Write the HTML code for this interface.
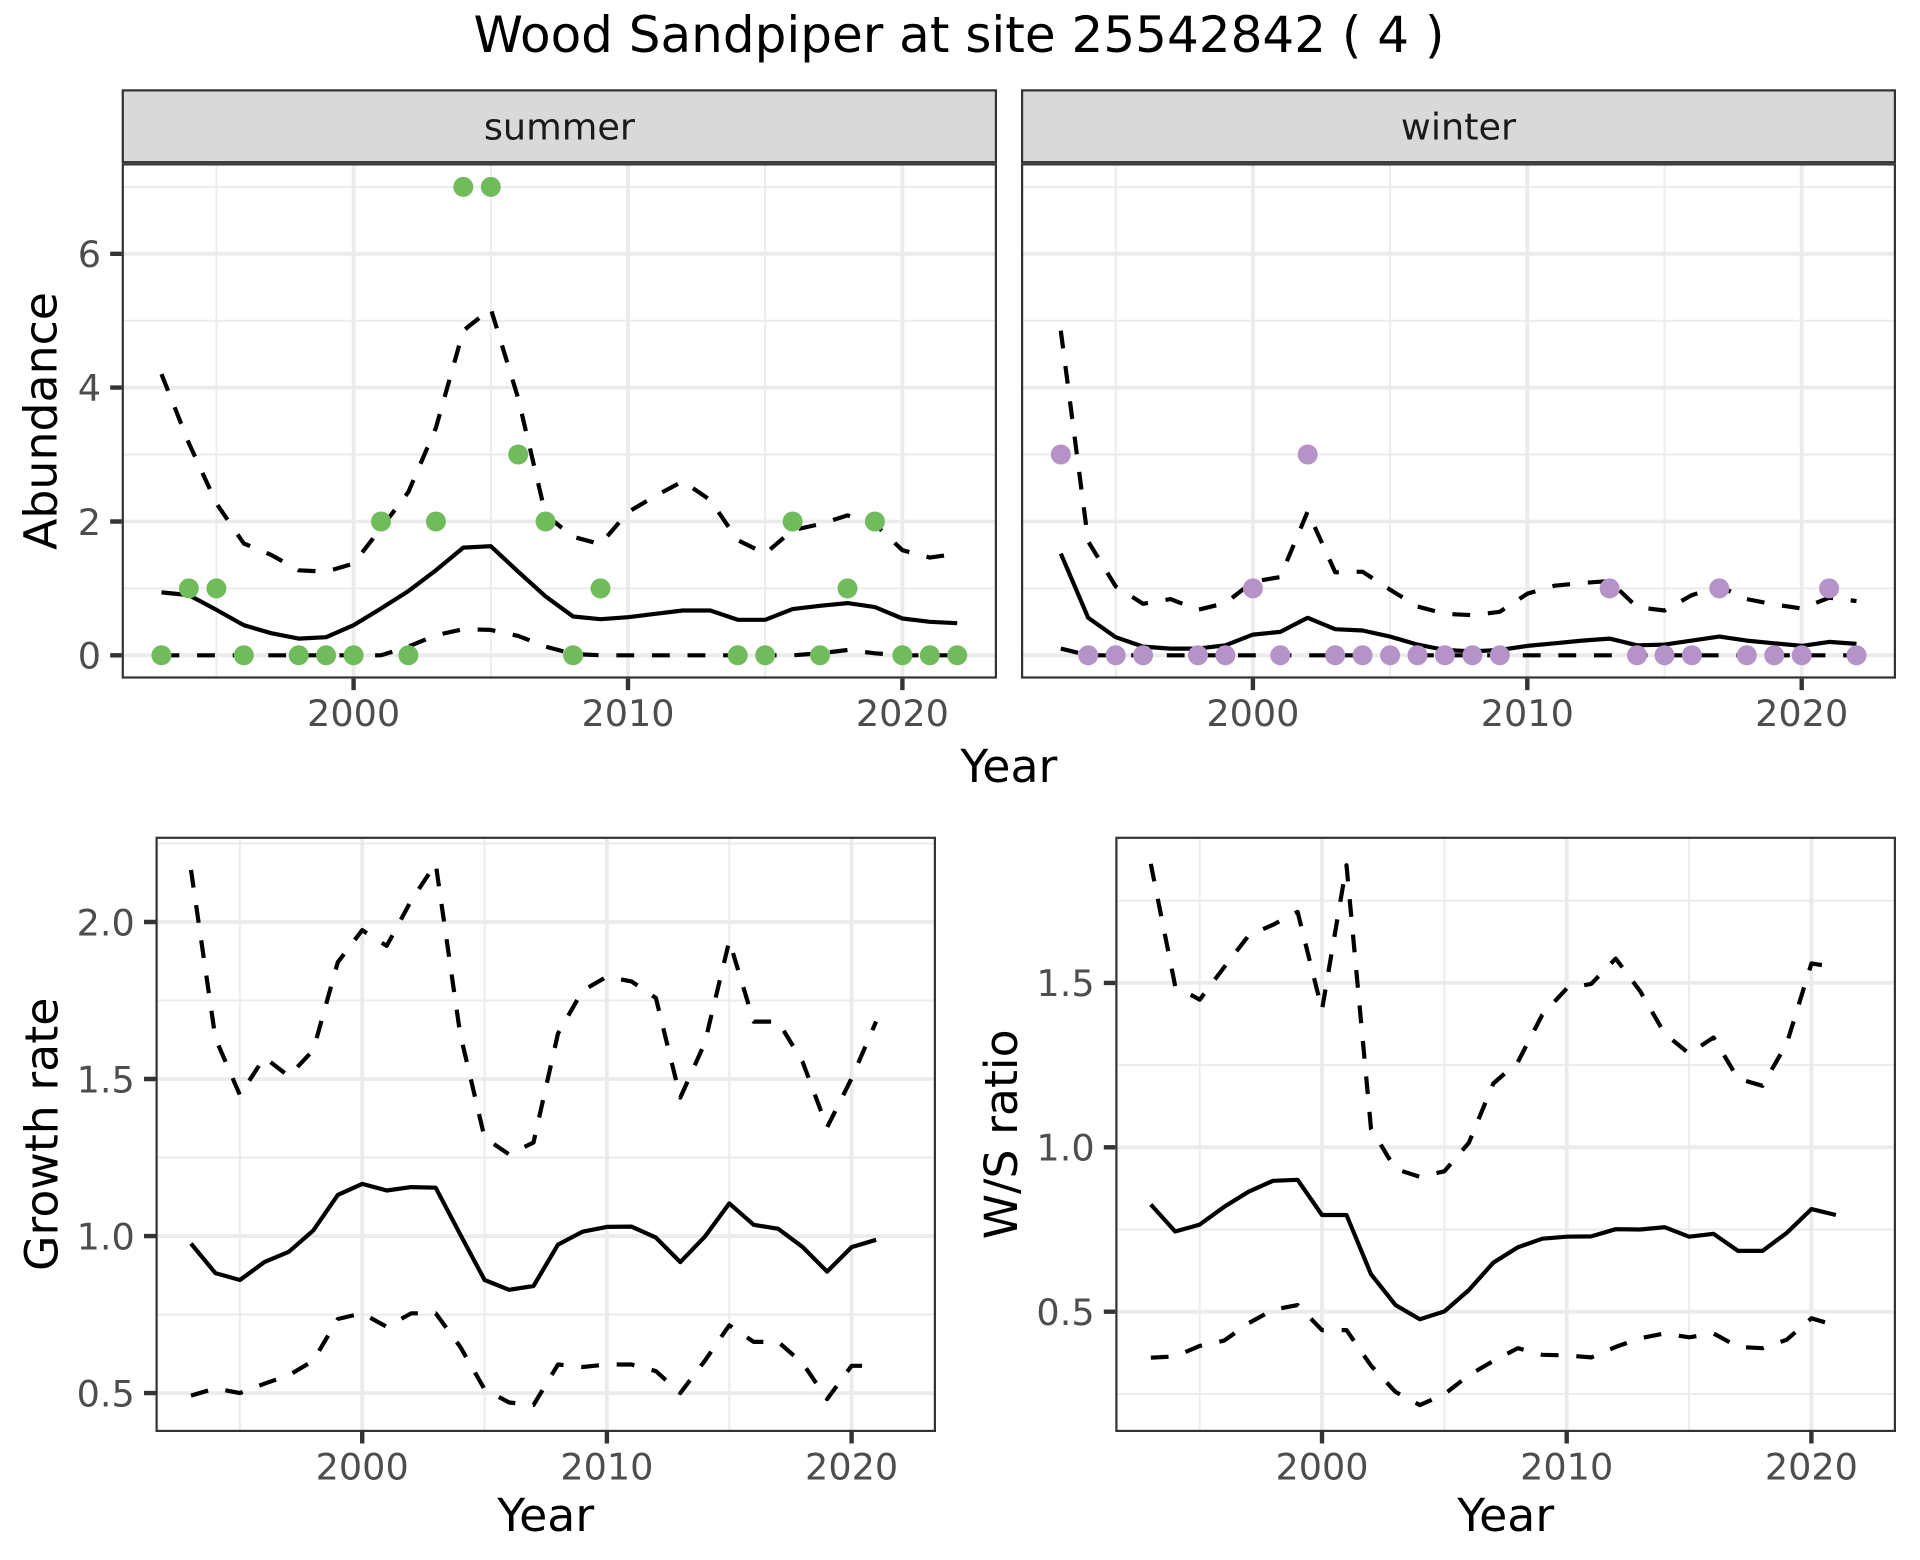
<!DOCTYPE html>
<html><head><meta charset="utf-8"><style>
html,body{margin:0;padding:0;background:#fff;}
svg{display:block;}
text{font-family:"DejaVu Sans","Liberation Sans",sans-serif;}
</style></head><body>
<svg xmlns="http://www.w3.org/2000/svg" width="1920" height="1560" viewBox="0 0 1920 1560">
<rect x="0" y="0" width="1920" height="1560" fill="#fff"/>
<text x="959" y="52" font-size="50" text-anchor="middle" fill="#000">Wood Sandpiper at site 25542842 ( 4 )</text>

<!-- ===== TOP LEFT (summer) ===== -->
<rect x="121.7" y="163.3" width="875.3" height="515.3" fill="#fff"/>
<g stroke="#EBEBEB" stroke-width="1.9" fill="none">
<path d="M216.4 163.3V678.6M490.8 163.3V678.6M765.2 163.3V678.6M121.7 588.4H997M121.7 454.5H997M121.7 320.7H997M121.7 186.9H997"/>
</g>
<g stroke="#EBEBEB" stroke-width="3.8" fill="none">
<path d="M353.6 163.3V678.6M628 163.3V678.6M902.4 163.3V678.6M121.7 655.3H997M121.7 521.5H997M121.7 387.6H997M121.7 253.8H997"/>
</g>
<g fill="none" stroke="#000" stroke-width="4.2" stroke-linejoin="round">
<polyline points="161.5,592.4 188.9,595.1 216.4,609.8 243.8,625.2 271.2,633.2 298.7,638.6 326.1,637.2 353.6,625.2 381.0,608.5 408.4,591.1 435.9,570.3 463.3,547.6 490.8,546.2 518.2,571.7 545.6,596.4 573.1,616.5 600.5,619.2 628.0,617.2 655.4,613.8 682.8,610.5 710.3,610.5 737.7,619.8 765.2,619.8 792.6,609.1 820.0,605.8 847.5,603.1 874.9,607.1 902.4,618.5 929.8,621.8 957.2,623.2"/>
<polyline stroke-dasharray="17.8,17.8" points="161.5,374.2 188.9,443.2 216.4,503.4 243.8,543.5 271.2,554.9 298.7,570.3 326.1,571.7 353.6,563.6 381.0,528.2 408.4,492.0 435.9,427.8 463.3,330.7 490.8,308.7 518.2,398.3 545.6,514.8 573.1,536.8 600.5,544.2 628.0,512.1 655.4,496.0 682.8,481.3 710.3,500.0 737.7,540.2 765.2,553.6 792.6,530.2 820.0,524.1 847.5,515.4 874.9,524.1 902.4,550.2 929.8,557.6 957.2,553.6"/>
<polyline stroke-dasharray="17.8,17.8" points="161.5,655.3 188.9,655.3 216.4,655.3 243.8,655.3 271.2,655.3 298.7,655.3 326.1,655.3 353.6,655.3 381.0,655.3 408.4,646.6 435.9,635.2 463.3,629.2 490.8,629.9 518.2,635.9 545.6,646.6 573.1,654.0 600.5,655.3 628.0,655.3 655.4,655.3 682.8,655.3 710.3,655.3 737.7,655.3 765.2,655.3 792.6,655.3 820.0,653.3 847.5,650.0 874.9,653.3 902.4,655.3 929.8,655.3 957.2,655.3"/>
</g>
<g fill="#70BC5C">
<circle cx="161.5" cy="655.3" r="10"/><circle cx="188.9" cy="588.4" r="10"/><circle cx="216.4" cy="588.4" r="10"/><circle cx="243.8" cy="655.3" r="10"/><circle cx="298.7" cy="655.3" r="10"/><circle cx="326.1" cy="655.3" r="10"/><circle cx="353.6" cy="655.3" r="10"/><circle cx="381.0" cy="521.5" r="10"/><circle cx="408.4" cy="655.3" r="10"/><circle cx="435.9" cy="521.5" r="10"/><circle cx="463.3" cy="186.9" r="10"/><circle cx="490.8" cy="186.9" r="10"/><circle cx="518.2" cy="454.5" r="10"/><circle cx="545.6" cy="521.5" r="10"/><circle cx="573.1" cy="655.3" r="10"/><circle cx="600.5" cy="588.4" r="10"/><circle cx="737.7" cy="655.3" r="10"/><circle cx="765.2" cy="655.3" r="10"/><circle cx="792.6" cy="521.5" r="10"/><circle cx="820.0" cy="655.3" r="10"/><circle cx="847.5" cy="588.4" r="10"/><circle cx="874.9" cy="521.5" r="10"/><circle cx="902.4" cy="655.3" r="10"/><circle cx="929.8" cy="655.3" r="10"/><circle cx="957.2" cy="655.3" r="10"/>
</g>
<rect x="122.8" y="164.4" width="873.1" height="513.1" fill="none" stroke="#333" stroke-width="2.2"/>
<rect x="121.7" y="89.3" width="875.3" height="74" fill="#D9D9D9"/>
<rect x="122.8" y="90.4" width="873.1" height="71.8" fill="none" stroke="#333" stroke-width="2.2"/>
<text x="559.4" y="139.5" font-size="36.6" text-anchor="middle" fill="#1A1A1A">summer</text>

<!-- ===== TOP RIGHT (winter) ===== -->
<rect x="1021" y="163.3" width="875" height="515.3" fill="#fff"/>
<g stroke="#EBEBEB" stroke-width="1.9" fill="none">
<path d="M1115.7 163.3V678.6M1390.1 163.3V678.6M1664.5 163.3V678.6M1021 588.4H1896M1021 454.5H1896M1021 320.7H1896M1021 186.9H1896"/>
</g>
<g stroke="#EBEBEB" stroke-width="3.8" fill="none">
<path d="M1252.9 163.3V678.6M1527.3 163.3V678.6M1801.7 163.3V678.6M1021 655.3H1896M1021 521.5H1896M1021 387.6H1896M1021 253.8H1896"/>
</g>
<g fill="none" stroke="#000" stroke-width="4.2" stroke-linejoin="round">
<polyline points="1060.8,553.6 1088.2,617.8 1115.7,637.2 1143.1,646.6 1170.5,648.6 1198.0,648.6 1225.4,645.3 1252.9,634.6 1280.3,631.9 1307.7,617.8 1335.2,629.2 1362.6,630.5 1390.1,636.6 1417.5,644.6 1444.9,650.0 1472.4,651.3 1499.8,650.0 1527.3,645.9 1554.7,643.3 1582.1,640.6 1609.6,638.6 1637.0,645.3 1664.5,644.6 1691.9,640.6 1719.3,636.6 1746.8,640.6 1774.2,643.3 1801.7,645.9 1829.1,641.9 1856.5,643.9"/>
<polyline stroke-dasharray="17.8,17.8" points="1060.8,330.7 1088.2,541.5 1115.7,586.4 1143.1,603.8 1170.5,599.1 1198.0,609.8 1225.4,603.1 1252.9,581.7 1280.3,577.0 1307.7,511.4 1335.2,572.3 1362.6,571.7 1390.1,589.7 1417.5,606.5 1444.9,613.8 1472.4,615.2 1499.8,611.8 1527.3,593.7 1554.7,585.7 1582.1,583.0 1609.6,581.0 1637.0,607.1 1664.5,610.5 1691.9,595.1 1719.3,586.4 1746.8,599.1 1774.2,604.4 1801.7,608.5 1829.1,597.7 1856.5,601.1"/>
<polyline stroke-dasharray="17.8,17.8" points="1060.8,648.6 1088.2,655.3 1115.7,655.3 1143.1,655.3 1170.5,655.3 1198.0,655.3 1225.4,655.3 1252.9,655.3 1280.3,655.3 1307.7,655.3 1335.2,655.3 1362.6,655.3 1390.1,655.3 1417.5,655.3 1444.9,655.3 1472.4,655.3 1499.8,655.3 1527.3,655.3 1554.7,655.3 1582.1,655.3 1609.6,655.3 1637.0,655.3 1664.5,655.3 1691.9,655.3 1719.3,655.3 1746.8,655.3 1774.2,655.3 1801.7,655.3 1829.1,655.3 1856.5,655.3"/>
</g>
<g fill="#B592C7">
<circle cx="1060.8" cy="454.5" r="10"/><circle cx="1088.2" cy="655.3" r="10"/><circle cx="1115.7" cy="655.3" r="10"/><circle cx="1143.1" cy="655.3" r="10"/><circle cx="1198.0" cy="655.3" r="10"/><circle cx="1225.4" cy="655.3" r="10"/><circle cx="1252.9" cy="588.4" r="10"/><circle cx="1280.3" cy="655.3" r="10"/><circle cx="1307.7" cy="454.5" r="10"/><circle cx="1335.2" cy="655.3" r="10"/><circle cx="1362.6" cy="655.3" r="10"/><circle cx="1390.1" cy="655.3" r="10"/><circle cx="1417.5" cy="655.3" r="10"/><circle cx="1444.9" cy="655.3" r="10"/><circle cx="1472.4" cy="655.3" r="10"/><circle cx="1499.8" cy="655.3" r="10"/><circle cx="1609.6" cy="588.4" r="10"/><circle cx="1637.0" cy="655.3" r="10"/><circle cx="1664.5" cy="655.3" r="10"/><circle cx="1691.9" cy="655.3" r="10"/><circle cx="1719.3" cy="588.4" r="10"/><circle cx="1746.8" cy="655.3" r="10"/><circle cx="1774.2" cy="655.3" r="10"/><circle cx="1801.7" cy="655.3" r="10"/><circle cx="1829.1" cy="588.4" r="10"/><circle cx="1856.5" cy="655.3" r="10"/>
</g>
<rect x="1022.1" y="164.4" width="872.8" height="513.1" fill="none" stroke="#333" stroke-width="2.2"/>
<rect x="1021" y="89.3" width="875" height="74" fill="#D9D9D9"/>
<rect x="1022.1" y="90.4" width="872.8" height="71.8" fill="none" stroke="#333" stroke-width="2.2"/>
<text x="1458.5" y="139.5" font-size="36.6" text-anchor="middle" fill="#1A1A1A">winter</text>

<!-- top axes -->
<g stroke="#333" stroke-width="4.4">
<path d="M110.2 655.3H121.7M110.2 521.5H121.7M110.2 387.6H121.7M110.2 253.8H121.7"/>
<path d="M353.6 678.6V690.1M628 678.6V690.1M902.4 678.6V690.1"/>
<path d="M1252.9 678.6V690.1M1527.3 678.6V690.1M1801.7 678.6V690.1"/>
</g>
<g font-size="36.6" fill="#4D4D4D">
<g text-anchor="end">
<text x="101" y="668.6">0</text><text x="101" y="534.8">2</text><text x="101" y="400.9">4</text><text x="101" y="267.1">6</text>
</g>
<g text-anchor="middle">
<text x="353.6" y="726">2000</text><text x="628" y="726">2010</text><text x="902.4" y="726">2020</text>
<text x="1252.9" y="726">2000</text><text x="1527.3" y="726">2010</text><text x="1801.7" y="726">2020</text>
</g>
</g>
<text x="1008.9" y="782" font-size="45.8" text-anchor="middle" fill="#000">Year</text>
<text transform="translate(56.5,421) rotate(-90)" font-size="45.8" text-anchor="middle" fill="#000">Abundance</text>

<!-- ===== BOTTOM LEFT (Growth rate) ===== -->
<rect x="155.5" y="836.7" width="780.5" height="595.3" fill="#fff"/>
<g stroke="#EBEBEB" stroke-width="1.9" fill="none">
<path d="M239.9 836.7V1432M484.6 836.7V1432M729.3 836.7V1432M155.5 843.5H936M155.5 1000.5H936M155.5 1157.5H936M155.5 1314.6H936"/>
</g>
<g stroke="#EBEBEB" stroke-width="3.8" fill="none">
<path d="M362.2 836.7V1432M606.9 836.7V1432M851.6 836.7V1432M155.5 922H936M155.5 1079H936M155.5 1236.1H936M155.5 1393.1H936"/>
</g>
<g fill="none" stroke="#000" stroke-width="4.2" stroke-linejoin="round">
<polyline points="191.0,1243.6 215.4,1273.1 239.9,1280.0 264.4,1262.1 288.8,1251.8 313.3,1230.4 337.8,1194.9 362.2,1183.9 386.7,1190.5 411.2,1187.1 435.7,1187.7 460.1,1234.2 484.6,1280.0 509.1,1289.8 533.5,1286.0 558.0,1244.6 582.5,1231.7 606.9,1226.9 631.4,1226.6 655.9,1237.6 680.3,1262.1 704.8,1236.7 729.3,1203.4 753.7,1224.8 778.2,1228.8 802.7,1247.1 827.1,1271.6 851.6,1247.1 876.1,1239.8"/>
<polyline stroke-dasharray="17.8,17.8" points="191.0,869.9 215.4,1038.2 239.9,1095.1 264.4,1057.4 288.8,1076.2 313.3,1050.1 337.8,962.2 362.2,930.2 386.7,945.9 411.2,900.6 435.7,863.6 460.1,1033.5 484.6,1137.8 509.1,1154.4 533.5,1142.5 558.0,1033.5 582.5,990.8 606.9,976.6 631.4,981.4 655.9,998.0 680.3,1097.6 704.8,1042.9 729.3,940.8 753.7,1021.6 778.2,1021.6 802.7,1062.1 827.1,1127.4 851.6,1078.4 876.1,1021.6"/>
<polyline stroke-dasharray="17.8,17.8" points="191.0,1395.6 215.4,1388.4 239.9,1393.1 264.4,1383.7 288.8,1375.2 313.3,1360.8 337.8,1319.0 362.2,1313.3 386.7,1326.8 411.2,1313.3 435.7,1313.3 460.1,1346.6 484.6,1389.3 509.1,1402.5 533.5,1405.0 558.0,1364.5 582.5,1367.0 606.9,1364.5 631.4,1364.5 655.9,1371.1 680.3,1393.1 704.8,1360.8 729.3,1325.3 753.7,1341.9 778.2,1341.9 802.7,1363.3 827.1,1399.1 851.6,1365.8 876.1,1365.8"/>
</g>
<rect x="156.6" y="837.8" width="778.3" height="593.1" fill="none" stroke="#333" stroke-width="2.2"/>
<g stroke="#333" stroke-width="4.4">
<path d="M144 922H155.5M144 1079H155.5M144 1236.1H155.5M144 1393.1H155.5"/>
<path d="M362.2 1432V1443.5M606.9 1432V1443.5M851.6 1432V1443.5"/>
</g>
<g font-size="36.6" fill="#4D4D4D">
<g text-anchor="end">
<text x="134.8" y="935.3">2.0</text><text x="134.8" y="1092.3">1.5</text><text x="134.8" y="1249.4">1.0</text><text x="134.8" y="1406.4">0.5</text>
</g>
<g text-anchor="middle">
<text x="362.2" y="1479.5">2000</text><text x="606.9" y="1479.5">2010</text><text x="851.6" y="1479.5">2020</text>
</g>
</g>
<text x="545.7" y="1531" font-size="45.8" text-anchor="middle" fill="#000">Year</text>
<text transform="translate(57.5,1134.3) rotate(-90)" font-size="45.8" text-anchor="middle" fill="#000">Growth rate</text>

<!-- ===== BOTTOM RIGHT (W/S ratio) ===== -->
<rect x="1115.3" y="836.7" width="780.7" height="595.3" fill="#fff"/>
<g stroke="#EBEBEB" stroke-width="1.9" fill="none">
<path d="M1199.7 836.7V1432M1444.4 836.7V1432M1689.1 836.7V1432M1115.3 900.7H1896M1115.3 1065.1H1896M1115.3 1229.5H1896M1115.3 1393.9H1896"/>
</g>
<g stroke="#EBEBEB" stroke-width="3.8" fill="none">
<path d="M1322 836.7V1432M1566.7 836.7V1432M1811.4 836.7V1432M1115.3 982.9H1896M1115.3 1147.3H1896M1115.3 1311.7H1896"/>
</g>
<g fill="none" stroke="#000" stroke-width="4.2" stroke-linejoin="round">
<polyline points="1150.8,1204.5 1175.2,1231.5 1199.7,1224.6 1224.2,1206.8 1248.6,1191.7 1273.1,1180.8 1297.6,1179.8 1322.0,1215.0 1346.5,1215.0 1371.0,1274.2 1395.5,1305.1 1419.9,1319.3 1444.4,1311.4 1468.9,1290.0 1493.3,1262.7 1517.8,1247.3 1542.3,1238.7 1566.7,1236.7 1591.2,1236.4 1615.7,1229.2 1640.1,1229.5 1664.6,1227.2 1689.1,1236.7 1713.5,1233.8 1738.0,1250.9 1762.5,1250.9 1786.9,1232.8 1811.4,1209.1 1835.9,1215.0"/>
<polyline stroke-dasharray="17.8,17.8" points="1150.8,863.9 1175.2,986.2 1199.7,999.7 1224.2,967.1 1248.6,935.6 1273.1,924.7 1297.6,911.9 1322.0,1009.9 1346.5,865.2 1371.0,1128.6 1395.5,1169.0 1419.9,1176.9 1444.4,1171.3 1468.9,1142.7 1493.3,1083.5 1517.8,1062.1 1542.3,1014.8 1566.7,988.5 1591.2,983.9 1615.7,958.6 1640.1,991.1 1664.6,1033.5 1689.1,1053.6 1713.5,1037.5 1738.0,1078.6 1762.5,1085.8 1786.9,1043.1 1811.4,963.5 1835.9,967.1"/>
<polyline stroke-dasharray="17.8,17.8" points="1150.8,1357.7 1175.2,1356.4 1199.7,1345.9 1224.2,1340.6 1248.6,1323.2 1273.1,1309.7 1297.6,1305.1 1322.0,1330.1 1346.5,1330.1 1371.0,1365.6 1395.5,1391.9 1419.9,1405.1 1444.4,1394.2 1468.9,1375.2 1493.3,1361.0 1517.8,1348.2 1542.3,1354.8 1566.7,1355.4 1591.2,1357.4 1615.7,1346.9 1640.1,1338.3 1664.6,1333.4 1689.1,1337.3 1713.5,1333.4 1738.0,1346.9 1762.5,1348.2 1786.9,1339.6 1811.4,1318.3 1835.9,1325.5"/>
</g>
<rect x="1116.4" y="837.8" width="778.5" height="593.1" fill="none" stroke="#333" stroke-width="2.2"/>
<g stroke="#333" stroke-width="4.4">
<path d="M1103.8 982.9H1115.3M1103.8 1147.3H1115.3M1103.8 1311.7H1115.3"/>
<path d="M1322 1432V1443.5M1566.7 1432V1443.5M1811.4 1432V1443.5"/>
</g>
<g font-size="36.6" fill="#4D4D4D">
<g text-anchor="end">
<text x="1094.6" y="996.2">1.5</text><text x="1094.6" y="1160.6">1.0</text><text x="1094.6" y="1325">0.5</text>
</g>
<g text-anchor="middle">
<text x="1322" y="1479.5">2000</text><text x="1566.7" y="1479.5">2010</text><text x="1811.4" y="1479.5">2020</text>
</g>
</g>
<text x="1505.7" y="1531" font-size="45.8" text-anchor="middle" fill="#000">Year</text>
<text transform="translate(1017,1134.3) rotate(-90)" font-size="45.8" text-anchor="middle" fill="#000">W/S ratio</text>
</svg>
</body></html>
